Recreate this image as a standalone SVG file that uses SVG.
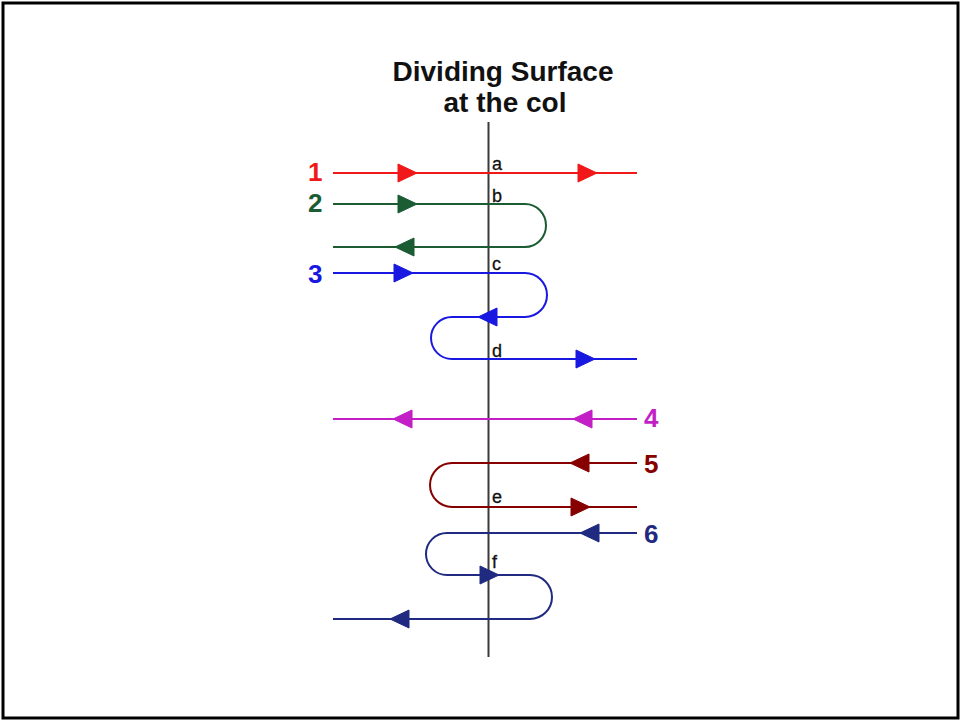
<svg xmlns="http://www.w3.org/2000/svg" width="960" height="720" viewBox="0 0 960 720">
<defs>
<style>
.tr{fill:none;stroke-width:2}
.num{font-family:"Liberation Sans",Arial,sans-serif;font-weight:bold;font-size:26px}
.pt{font-family:"Liberation Sans",Arial,sans-serif;font-size:18px;fill:#111;stroke:#111;stroke-width:0.3}
.title{font-family:"Liberation Sans",Arial,sans-serif;font-weight:bold;font-size:28px;fill:#111;text-anchor:middle}
</style>
<path id="ar" d="M0,0 L-19,-9 L-19,9 Z"/>
</defs>
<rect x="0" y="0" width="960" height="720" fill="#fff"/>
<rect x="3" y="3" width="955" height="715" fill="none" stroke="#000" stroke-width="3"/>
<g id="title">
<text class="title" x="503" y="81">Dividing Surface</text>
<text class="title" x="505" y="112">at the col</text>
</g>
<g id="surface"><line x1="488.5" y1="122" x2="488.5" y2="657" stroke="#3a3a3a" stroke-width="2"/></g>
<g id="connectors">
<g id="traj1" stroke="#f01818" fill="#f01818">
<path class="tr" d="M333,173 H637"/>
<use href="#ar" transform="translate(417,173)"/>
<use href="#ar" transform="translate(597,173)"/>
</g>
<g id="traj2" stroke="#1b5c33" fill="#1b5c33">
<path class="tr" d="M333,204 H525 A21,21.5 0 0 1 525,247 H333"/>
<use href="#ar" transform="translate(417,204)"/>
<use href="#ar" transform="translate(395,247) rotate(180)"/>
</g>
<g id="traj3" stroke="#1818e0" fill="#1818e0">
<path class="tr" d="M333,273 H525 A22,22 0 0 1 525,317 H452 A21,21 0 0 0 452,359 H637"/>
<use href="#ar" transform="translate(413,273)"/>
<use href="#ar" transform="translate(478,317) rotate(180)"/>
<use href="#ar" transform="translate(595,359)"/>
</g>
<g id="traj4" stroke="#c21fc6" fill="#c21fc6">
<path class="tr" d="M637,419 H333"/>
<use href="#ar" transform="translate(573,419) rotate(180)"/>
<use href="#ar" transform="translate(393,419) rotate(180)"/>
</g>
<g id="traj5" stroke="#870000" fill="#870000">
<path class="tr" d="M637,463 H452 A22,22 0 0 0 452,507 H637"/>
<use href="#ar" transform="translate(570,463) rotate(180)"/>
<use href="#ar" transform="translate(590,507)"/>
</g>
<g id="traj6" stroke="#1f2a80" fill="#1f2a80">
<path class="tr" d="M637,533 H447 A21,21 0 0 0 447,575 H530 A22,22 0 0 1 530,619 H333"/>
<use href="#ar" transform="translate(580,533) rotate(180)"/>
<use href="#ar" transform="translate(499,575)"/>
<use href="#ar" transform="translate(390,619) rotate(180)"/>
</g>
</g>
<g id="labels">
<text class="num" x="308" y="181" fill="#f01818">1</text>
<text class="num" x="308" y="212" fill="#1b5c33">2</text>
<text class="num" x="308" y="283" fill="#1818e0">3</text>
<text class="num" x="644" y="427" fill="#c21fc6">4</text>
<text class="num" x="644" y="473" fill="#870000">5</text>
<text class="num" x="644" y="543" fill="#1f2a80">6</text>
<text class="pt" x="492" y="170">a</text>
<text class="pt" x="492" y="202">b</text>
<text class="pt" x="492" y="270">c</text>
<text class="pt" x="492" y="357">d</text>
<text class="pt" x="492" y="503">e</text>
<text class="pt" x="492" y="568">f</text>
</g>
</svg>
